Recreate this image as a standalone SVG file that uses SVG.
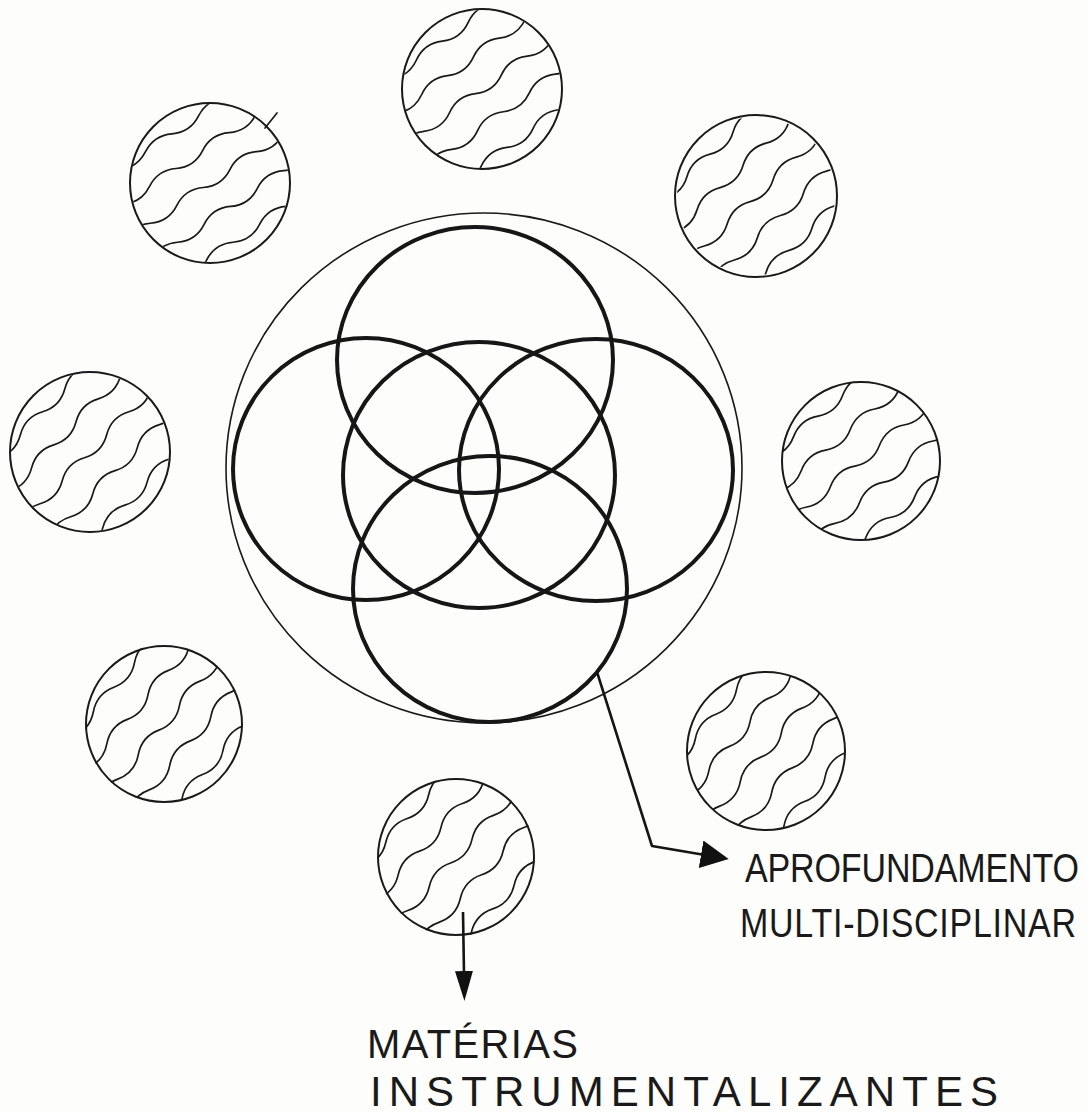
<svg xmlns="http://www.w3.org/2000/svg" xmlns:xlink="http://www.w3.org/1999/xlink" width="1087" height="1113" viewBox="0 0 1087 1113">
<style>
.bg{fill:#fdfdfb}
.thin{fill:none;stroke:#1a1a1a;stroke-width:1.6}
.thick{fill:none;stroke:#161616;stroke-width:4}
.ball{fill:none;stroke:#1a1a1a;stroke-width:2}
.wave{fill:none;stroke:#1a1a1a;stroke-width:1.7;stroke-linecap:round;stroke-linejoin:round}
.conn{fill:none;stroke:#151515;stroke-width:2.6;stroke-linejoin:round}
.lbl{font-family:"Liberation Sans",Arial,sans-serif;fill:#1a1a1a}
</style>
<defs>
<clipPath id="ballClip"><circle cx="0" cy="0" r="79"/></clipPath>
<g id="waves" class="wave">
<path d="M-100,-62 q16,-9 32,0 t32,0 t32,0 t32,0 t32,0 t32,0 t32,0"/>
<path d="M-116,-31 q16,-9 32,0 t32,0 t32,0 t32,0 t32,0 t32,0 t32,0"/>
<path d="M-104,0 q16,-9 32,0 t32,0 t32,0 t32,0 t32,0 t32,0 t32,0"/>
<path d="M-92,31 q16,-9 32,0 t32,0 t32,0 t32,0 t32,0 t32,0 t32,0"/>
<path d="M-110,62 q16,-9 32,0 t32,0 t32,0 t32,0 t32,0 t32,0 t32,0"/>
</g>
<marker id="arrowWide" viewBox="0 0 28 28" markerWidth="28" markerHeight="28" refX="4" refY="14" orient="auto" markerUnits="userSpaceOnUse">
<path d="M0,0 L28,14 L0,28 z" fill="#111"/>
</marker>
<marker id="arrowNarrow" viewBox="0 0 30 18" markerWidth="30" markerHeight="18" refX="3" refY="9" orient="auto" markerUnits="userSpaceOnUse">
<path d="M0,0 L30,9 L0,18 z" fill="#111"/>
</marker>
</defs>
<rect class="bg" x="0" y="0" width="1087" height="1113"/>

<g id="core">
<ellipse id="outer" class="thin" cx="484" cy="468" rx="258" ry="255"/>
<ellipse id="c-top" class="thick" cx="475" cy="360" rx="138" ry="133"/>
<ellipse id="c-left" class="thick" cx="366" cy="469" rx="133" ry="131"/>
<ellipse id="c-right" class="thick" cx="596" cy="470" rx="137" ry="131"/>
<ellipse id="c-mid" class="thick" cx="479" cy="475" rx="136" ry="133"/>
<ellipse id="c-bottom" class="thick" cx="490" cy="589" rx="137" ry="133"/>
</g>

<g id="ball-top" transform="translate(482,89)">
<circle class="ball" r="80"/>
<g clip-path="url(#ballClip)"><use xlink:href="#waves" href="#waves" transform="rotate(-36)"/></g>
</g>
<g id="ball-topleft" transform="translate(210,183)">
<circle class="ball" r="80"/>
<g clip-path="url(#ballClip)"><use xlink:href="#waves" href="#waves" transform="rotate(-34)"/></g>
<path class="wave" d="M55,-55 L67,-70"/>
</g>
<g id="ball-topright" transform="translate(756,196)">
<circle class="ball" r="81"/>
<g clip-path="url(#ballClip)"><use xlink:href="#waves" href="#waves" transform="rotate(-44)"/></g>
</g>
<g id="ball-left" transform="translate(90,452)">
<circle class="ball" r="80"/>
<g clip-path="url(#ballClip)"><use xlink:href="#waves" href="#waves" transform="rotate(-46)"/></g>
</g>
<g id="ball-right" transform="translate(861,461)">
<circle class="ball" r="79"/>
<g clip-path="url(#ballClip)"><use xlink:href="#waves" href="#waves" transform="rotate(-40)"/></g>
</g>
<g id="ball-bottomleft" transform="translate(164,724)">
<circle class="ball" r="78"/>
<g clip-path="url(#ballClip)"><use xlink:href="#waves" href="#waves" transform="rotate(-50)"/></g>
</g>
<g id="ball-bottomright" transform="translate(766,751)">
<circle class="ball" r="79"/>
<g clip-path="url(#ballClip)"><use xlink:href="#waves" href="#waves" transform="rotate(-50)"/></g>
</g>
<g id="ball-bottom" transform="translate(456,857)">
<circle class="ball" r="78"/>
<g clip-path="url(#ballClip)"><use xlink:href="#waves" href="#waves" transform="rotate(-48)"/></g>
</g>

<g id="connectors">
<polyline class="conn" points="597,672 652,846 705,855" marker-end="url(#arrowWide)"/>
<line class="conn" x1="463" y1="912" x2="464" y2="974" marker-end="url(#arrowNarrow)"/>
</g>

<g id="labels">
<text class="lbl" font-size="34" transform="translate(745,882) scale(1,1.2)" x="0" y="0" textLength="334" lengthAdjust="spacing">APROFUNDAMENTO</text>
<text class="lbl" font-size="34" transform="translate(740,937) scale(1,1.2)" x="0" y="0" textLength="336" lengthAdjust="spacing">MULTI-DISCIPLINAR</text>
<text class="lbl" font-size="40" x="367" y="1058" textLength="211" lengthAdjust="spacing">MATÉRIAS</text>
<text class="lbl" font-size="42" x="370" y="1106" textLength="628" lengthAdjust="spacing">INSTRUMENTALIZANTES</text>
</g>
</svg>
